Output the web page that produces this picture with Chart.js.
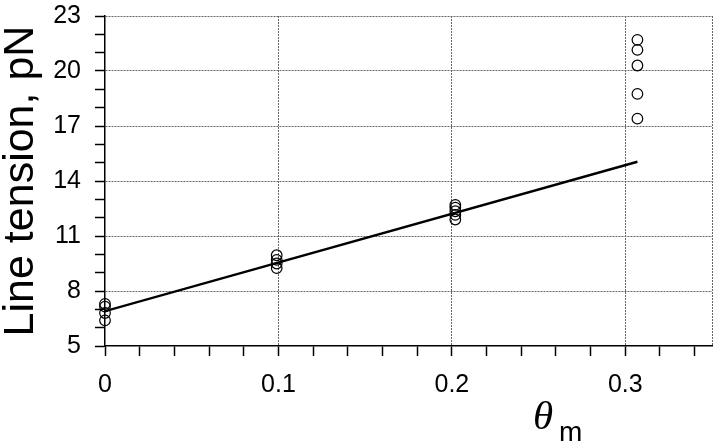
<!DOCTYPE html>
<html>
<head>
<meta charset="utf-8">
<script src="https://cdn.jsdelivr.net/npm/chart.js@4"></script>
<style>
  html, body { margin: 0; padding: 0; background: #fff; }
</style>
</head>
<body>
<canvas id="tensionChart" width="720" height="447"></canvas>
<script>
// measured groups (theta_m) and line tension values, pN
const groupX = [0, 0.099, 0.202, 0.307];
const groupTension = [
    [7.3, 7.15, 6.8, 6.4],
    [9.95, 9.7, 9.5, 9.25],
    [12.7, 12.55, 12.35, 12.15, 11.9],
    [21.7, 21.15, 20.3, 18.75, 17.4]
];
// linear fit
const fitX = [0, 0.307];
const fitY = [6.9, 15.05];
// axis ticks
const xLabels = [0, 0.1, 0.2, 0.3];
const yLabels = [5, 8, 11, 14, 17, 20, 23];

const points = [];
groupX.forEach((x, i) => {
    groupTension[i].forEach(v => points.push({ x: x, y: v }));
});
const fitLine = fitX.map((x, i) => ({ x: x, y: fitY[i] }));

const isMajor = (list, v) => list.some(t => Math.abs(t - v) < 1e-6);

// theta_m axis title: italic serif theta with a sans subscript m
const xTitle = {
    id: 'xTitle',
    afterDraw(chart) {
        const c = chart.ctx;
        c.save();
        c.fillStyle = '#000';
        c.textBaseline = 'alphabetic';
        c.font = 'italic 41px "Liberation Serif"';
        c.fillText('θ', 533, 429);
        c.font = '28px "Liberation Sans"';
        c.fillText('m', 559, 441);
        c.restore();
    }
};

const ctx = document.getElementById('tensionChart').getContext('2d');
new Chart(ctx, {
    type: 'scatter',
    data: {
        datasets: [{
            label: 'Line tension',
            data: points,
            showLine: false,
            pointRadius: 5.3,
            pointBorderWidth: 1.2,
            pointBorderColor: '#000',
            pointBackgroundColor: 'rgba(0,0,0,0)',
            clip: false
        }, {
            label: 'Fit',
            data: fitLine,
            showLine: true,
            borderColor: '#000',
            borderWidth: 2.4,
            pointRadius: 0
        }]
    },
    options: {
        responsive: false,
        animation: false,
        layout: { padding: { left: 0, right: 8, top: 16, bottom: 0 } },
        plugins: {
            legend: { display: false },
            tooltip: { enabled: false }
        },
        scales: {
            x: {
                type: 'linear',
                min: 0,
                max: 0.35,
                afterFit: s => {
                    s.height = 101;
                    s.paddingLeft = 0;
                    s.paddingRight = 0;
                },
                afterBuildTicks: s => { s.ticks.push({ value: 0.35 }); },
                ticks: {
                    stepSize: 0.02,
                    includeBounds: false,
                    autoSkip: false,
                    maxRotation: 0,
                    padding: 14,
                    color: '#000',
                    font: { family: '"Liberation Sans"', size: 25 },
                    callback: v => isMajor(xLabels, v) ? String(Math.round(v * 10) / 10) : ''
                },
                grid: {
                    color: c => (c.tick && (isMajor(xLabels, c.tick.value) || c.tick.value >= 0.35)) && c.tick.value > 0 ? '#666' : 'rgba(0,0,0,0)',
                    tickColor: c => c.tick && c.tick.value >= 0.35 ? 'rgba(0,0,0,0)' : '#000',
                    tickLength: 10,
                    tickWidth: 1.5,
                    tickBorderDash: [],
                    lineWidth: 1
                },
                border: { display: true, color: '#000', width: 1.5, dash: [2, 1] }
            },
            y: {
                type: 'linear',
                min: 5,
                max: 23,
                afterFit: s => {
                    s.width = 105;
                    s.paddingTop = 0;
                    s.paddingBottom = 0;
                },
                ticks: {
                    stepSize: 1,
                    autoSkip: false,
                    padding: 14,
                    color: '#000',
                    font: { family: '"Liberation Sans"', size: 25 },
                    callback: v => isMajor(yLabels, v) ? String(v) : ''
                },
                grid: {
                    color: c => c.tick && isMajor(yLabels, c.tick.value) && c.tick.value > 5 ? '#666' : 'rgba(0,0,0,0)',
                    tickColor: '#000',
                    tickLength: 10,
                    tickWidth: 1.5,
                    tickBorderDash: [],
                    lineWidth: 1
                },
                border: { display: true, color: '#000', width: 1.5, dash: [2, 1] },
                title: {
                    display: true,
                    text: 'Line tension, pN',
                    color: '#000',
                    font: { family: '"Liberation Sans"', size: 43, lineHeight: 1 },
                    padding: { top: 0, bottom: 0 }
                }
            }
        }
    },
    plugins: [xTitle]
});
</script>
</body>
</html>
